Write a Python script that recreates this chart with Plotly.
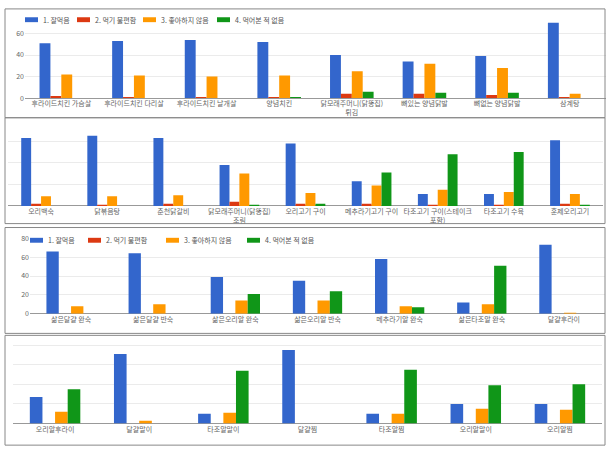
import plotly.graph_objects as go
from plotly.subplots import make_subplots

series_names = ["1. 잘먹음", "2. 먹기 불편함", "3. 좋아하지 않음", "4. 먹어본 적 없음"]
colors = ["#3366cc", "#dc3912", "#ff9900", "#109618"]

cats1 = ["후라이드치킨 가슴살", "후라이드치킨 다리살", "후라이드치킨 날개살", "양념치킨",
         "닭모래주머니(닭똥집)<br>튀김", "뼈있는 양념닭발", "뼈없는 양념닭발", "삼계탕"]
p1_s1 = [51, 53, 54, 52, 40, 34, 39, 70]
p1_s2 = [2, 1, 1, 1, 4, 4, 3, 1]
p1_s3 = [22, 21, 20, 21, 25, 32, 28, 4]
p1_s4 = [0, 0, 0, 1, 6, 5, 5, 0]

cats2 = ["오리백숙", "닭볶음탕", "춘천닭갈비", "닭모래주머니(닭똥집)<br>조림", "오리고기 구이",
         "메추라기고기 구이", "타조고기 구이(스테이크<br>포함)", "타조고기 수육", "훈제오리고기"]
p2_s1 = [63, 65, 63, 38, 58, 23, 11, 11, 61]
p2_s2 = [2, 1, 2, 4, 2, 2, 1, 1, 2]
p2_s3 = [9, 9, 10, 30, 12, 19, 15, 13, 11]
p2_s4 = [0, 0, 0, 1, 2, 31, 48, 50, 1]

cats3 = ["삶은달걀 완숙", "삶은달걀 반숙", "삶은오리알 완숙", "삶은오리알 반숙",
         "메추라기알 완숙", "삶은타조알 완숙", "달걀후라이"]
p3_s1 = [66, 64, 39, 35, 58, 12, 73]
p3_s2 = [0, 0, 0, 0, 0, 0, 0]
p3_s3 = [8, 10, 14, 14, 8, 10, 1]
p3_s4 = [0, 0, 21, 24, 7, 51, 0]

cats4 = ["오리알후라이", "달걀말이", "타조알말이", "달걀찜", "타조알찜", "오리알말이", "오리알찜"]
p4_s1 = [27, 71, 10, 75, 10, 20, 20]
p4_s2 = [0, 0, 0, 0, 0, 0, 0]
p4_s3 = [12, 3, 11, 0, 10, 15, 14]
p4_s4 = [35, 0, 54, 0, 55, 39, 40]

panels = [
    (cats1, [p1_s1, p1_s2, p1_s3, p1_s4]),
    (cats2, [p2_s1, p2_s2, p2_s3, p2_s4]),
    (cats3, [p3_s1, p3_s2, p3_s3, p3_s4]),
    (cats4, [p4_s1, p4_s2, p4_s3, p4_s4]),
]

W, H = 615, 456
FONT = "Noto Sans CJK KR"

fig = make_subplots(rows=4, cols=1)

for r, (cats, vals) in enumerate(panels, start=1):
    for i, v in enumerate(vals):
        fig.add_trace(go.Bar(x=cats, y=v, name=series_names[i], marker_color=colors[i],
                             marker_line_width=0, hoverinfo="skip", showlegend=False),
                      row=r, col=1)

# domains in pixels: (x0, x1, ytop, ybottom, yrange, show ticks, tickvals)
doms = [
    (25, 606, 17, 95, 71, True, [0, 20, 40, 60]),
    (8, 603, 125, 205, 72.7, False, [0, 20, 40, 60]),
    (30, 605, 237, 315, 81, True, [0, 20, 40, 60, 80]),
    (13, 602, 345, 427, 82, False, [0, 20, 40, 60, 80]),
]
for r, (x0, x1, yt, yb, yr, st, tv) in enumerate(doms, start=1):
    xa = "xaxis" if r == 1 else f"xaxis{r}"
    ya = "yaxis" if r == 1 else f"yaxis{r}"
    fig.layout[xa].update(domain=[x0 / W, x1 / W], showgrid=False, showline=False,
                          ticks="", tickfont=dict(family=FONT, size=7, color="#666"),
                          tickangle=0, fixedrange=True)
    fig.layout[ya].update(domain=[1 - yb / H, 1 - yt / H], range=[0, yr],
                          showgrid=True, gridcolor="#ebebeb", gridwidth=1,
                          zeroline=True, zerolinecolor="#999", zerolinewidth=1,
                          tickvals=tv, showticklabels=st, ticks="",
                          tickfont=dict(family=FONT, size=7, color="#666"), fixedrange=True)

# panel borders
boxes = [(5, 4, 605, 115), (5, 115, 605, 223), (5, 227, 605, 335), (5, 337, 605, 449)]
for (x0, y0, x1, y1) in boxes:
    fig.add_shape(type="rect", xref="paper", yref="paper",
                  x0=x0 / W, x1=x1 / W, y0=1 - y1 / H, y1=1 - y0 / H,
                  line=dict(color="#888", width=1), fillcolor="rgba(0,0,0,0)", layer="above")

# manual legends (swatch x-start positions in px, legend centre y)
legends = [
    ([25, 77, 143, 217], 15),
    ([30, 88, 166, 247], 240),
]
for xs, yc in legends:
    for i, x in enumerate(xs):
        fig.add_shape(type="rect", xref="paper", yref="paper",
                      x0=x / W, x1=(x + 13) / W, y0=1 - (yc + 2.5) / H, y1=1 - (yc - 2.5) / H,
                      line_width=0, fillcolor=colors[i])
        fig.add_annotation(xref="paper", yref="paper", x=(x + 16) / W, y=1 - yc / H,
                           xanchor="left", yanchor="middle", showarrow=False,
                           text=series_names[i], font=dict(family=FONT, size=7, color="#555"))

fig.update_layout(
    width=W, height=H,
    margin=dict(l=0, r=0, t=0, b=0),
    paper_bgcolor="white", plot_bgcolor="white",
    barmode="group", bargap=0.4, bargroupgap=0,
    showlegend=False,
    font=dict(family=FONT, size=7, color="#444"),
)

fig.write_html("out.html", config={"displayModeBar": False, "staticPlot": True},
               post_script="document.body.style.margin='0';")
